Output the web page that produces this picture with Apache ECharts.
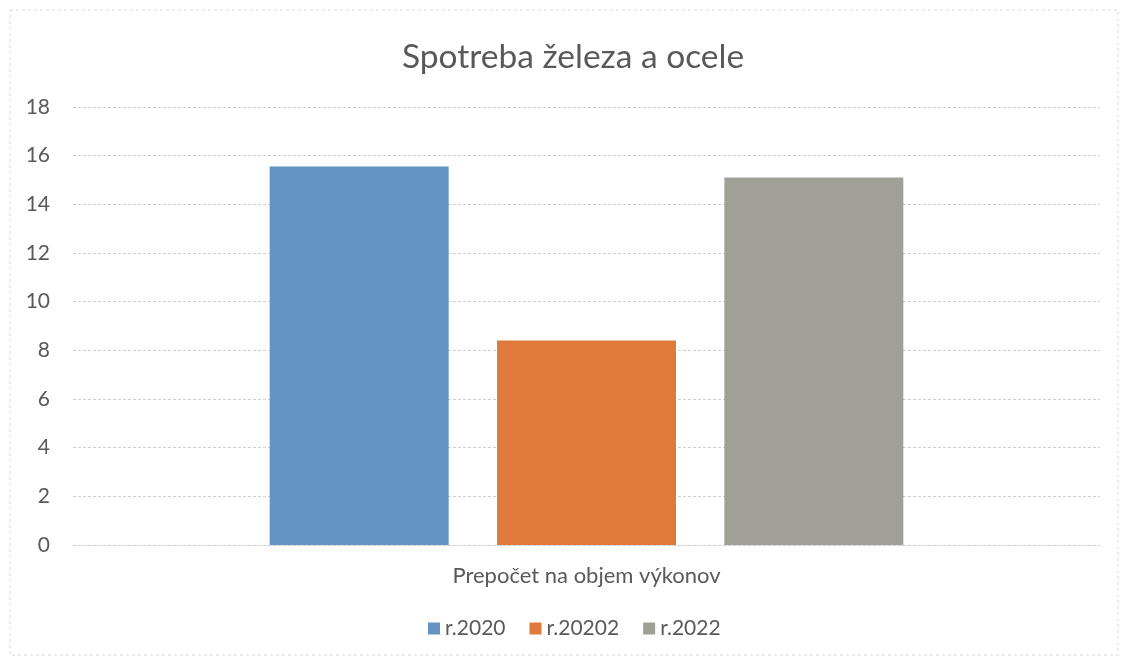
<!DOCTYPE html>
<html><head><meta charset="utf-8">
<script src="https://cdn.jsdelivr.net/npm/echarts@6/dist/echarts.min.js"></script>
<style>html,body{margin:0;padding:0;background:#fff}#c{width:1121px;height:659px}</style>
</head><body><div id="c"></div>
<script>
const categories = ['Prepočet na objem výkonov'];
const seriesNames = ['r.2020', 'r.20202', 'r.2022'];
const values2020 = [15.55];
const values20202 = [8.4];
const values2022 = [15.1];
const yTicks = [0, 2, 4, 6, 8, 10, 12, 14, 16, 18];

const colors = ['#6393c3', '#df7a3c', '#a0a099'];
const chart = echarts.init(document.getElementById('c'));
const font = 'Lato, "Open Sans", sans-serif';
chart.setOption({
  animation: false,
  backgroundColor: '#ffffff',
  title: {
    text: 'Spotreba železa a ocele', left: 397, top: 35,
    textStyle: { fontFamily: font, fontSize: 33.5, fontWeight: 'normal', color: '#595959' }
  },
  legend: {
    bottom: 15, left: 423, itemWidth: 12, itemHeight: 12, itemGap: 24,
    icon: 'rect',
    textStyle: { fontFamily: font, fontSize: 21, color: '#595959' },
    data: seriesNames
  },
  graphic: [{
    type: 'rect', shape: { x: 10, y: 10, width: 1108, height: 645 },
    style: { fill: 'none', stroke: '#d8d8d8', lineWidth: 1, lineDash: [3, 3] }, silent: true
  }],
  grid: { left: 73, right: 21, top: 107, bottom: 114 },
  xAxis: {
    type: 'category', data: categories,
    axisLine: { show: true, lineStyle: { color: '#d0d0d0', type: [3, 2] } },
    axisTick: { show: false },
    axisLabel: { margin: 20, fontFamily: font, fontSize: 22, color: '#595959' }
  },
  yAxis: {
    type: 'value', min: yTicks[0], max: yTicks[yTicks.length - 1], interval: 2,
    axisLine: { show: false }, axisTick: { show: false },
    axisLabel: { margin: 23, fontFamily: font, fontSize: 21, color: '#595959' },
    splitLine: { lineStyle: { color: '#cfcfcf', type: [3, 2] } }
  },
  series: [
    { name: seriesNames[0], type: 'bar', data: values2020, barWidth: 179, barGap: '27%', itemStyle: { color: colors[0] } },
    { name: seriesNames[1], type: 'bar', data: values20202, barWidth: 179, barGap: '27%', itemStyle: { color: colors[1] } },
    { name: seriesNames[2], type: 'bar', data: values2022, barWidth: 179, barGap: '27%', itemStyle: { color: colors[2] } }
  ]
});
</script></body></html>
